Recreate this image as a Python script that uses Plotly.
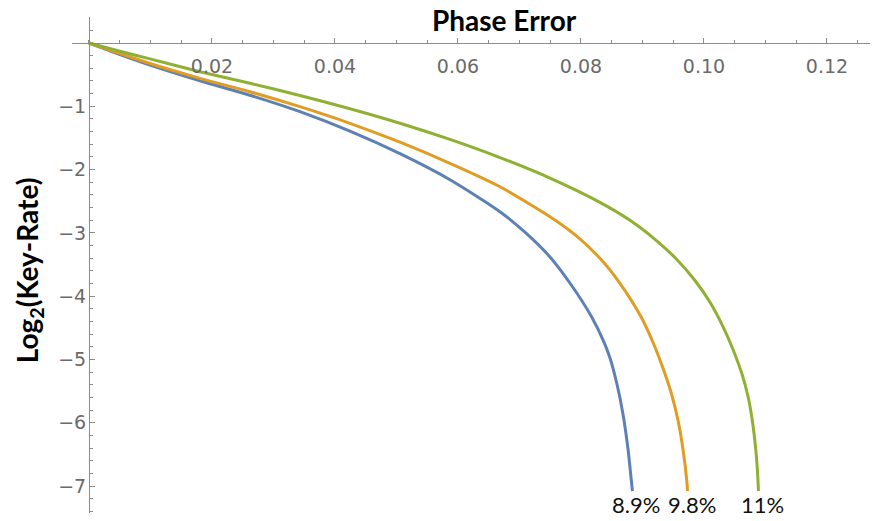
import plotly.graph_objects as go

# Phase error (x) and log2(key-rate) (y)
x_blue = [0.0, 0.00504, 0.00992, 0.01805, 0.02618, 0.03431, 0.04244, 0.05057, 0.05870, 0.06683,
          0.07089, 0.07496, 0.07837, 0.08179, 0.08374, 0.08472, 0.08585, 0.08683, 0.08769, 0.08813, 0.08837]
y_blue = [0.0, -0.182, -0.348, -0.596, -0.825, -1.085, -1.393, -1.749, -2.160, -2.665,
          -2.989, -3.380, -3.815, -4.336, -4.724, -4.976, -5.387, -5.861, -6.446, -6.856, -7.077]

x_orange = [0.0, 0.00504, 0.00992, 0.01805, 0.02618, 0.03431, 0.04244, 0.05057, 0.05870, 0.06683, 0.07496,
            0.07902, 0.08309, 0.08634, 0.08992, 0.09203, 0.09333, 0.09463, 0.09577, 0.09663, 0.09724, 0.09732]
y_orange = [0.0, -0.166, -0.324, -0.558, -0.769, -1.006, -1.269, -1.567, -1.900, -2.270, -2.744,
            -3.028, -3.401, -3.796, -4.352, -4.803, -5.134, -5.513, -5.956, -6.446, -6.951, -7.077]

x_green = [0.0, 0.00504, 0.00992, 0.01805, 0.02618, 0.03431, 0.04244, 0.05057, 0.05870, 0.06683, 0.07496,
           0.08309, 0.08797, 0.09203, 0.09528, 0.09854, 0.10098, 0.10309, 0.10472, 0.10618, 0.10715,
           0.10780, 0.10837, 0.10870, 0.10886]
y_green = [0.0, -0.131, -0.250, -0.453, -0.635, -0.829, -1.038, -1.267, -1.523, -1.810, -2.134,
           -2.517, -2.801, -3.101, -3.389, -3.752, -4.096, -4.479, -4.842, -5.229, -5.577,
           -5.924, -6.367, -6.761, -7.077]

x_ticks = [0.02, 0.04, 0.06, 0.08, 0.10, 0.12]
x_ticktext = ["0.02", "0.04", "0.06", "0.08", "0.10", "0.12"]
y_ticks = [-1, -2, -3, -4, -5, -6, -7]
y_ticktext = ["\u22121", "\u22122", "\u22123", "\u22124", "\u22125", "\u22126", "\u22127"]

threshold_labels = ["8.9%", "9.8%", "11%"]

colors = ["#5E81B5", "#E19C24", "#8FB032"]

fig = go.Figure()
for xs, ys, c in [(x_blue, y_blue, colors[0]), (x_orange, y_orange, colors[1]), (x_green, y_green, colors[2])]:
    fig.add_trace(go.Scatter(x=xs, y=ys, mode="lines",
                             line=dict(color=c, width=3, shape="spline", smoothing=0.7),
                             showlegend=False, hoverinfo="skip"))

axis_col = "#8c8c8c"
tick_font = dict(family="DejaVu Sans, sans-serif", size=19, color="#6a6a6a")

fig.update_layout(
    width=878, height=521,
    margin=dict(l=64, r=8, t=9, b=16),
    paper_bgcolor="white", plot_bgcolor="white",
    xaxis=dict(range=[-0.00276, 0.1283], anchor="free", position=0.9476, side="bottom",
               showline=True, linecolor=axis_col, linewidth=1,
               ticks="inside", ticklen=5, tickcolor=axis_col, tickwidth=1,
               tickmode="array", tickvals=x_ticks, ticktext=x_ticktext, tickfont=tick_font,
               ticklabelstandoff=6,
               showgrid=False, zeroline=False,
               minor=dict(tickmode="linear", tick0=0, dtick=0.005, ticklen=3,
                          ticks="inside", tickcolor=axis_col, showgrid=False)),
    yaxis=dict(range=[-7.425, 0.411], anchor="free", position=0.0211, side="left",
               showline=True, linecolor=axis_col, linewidth=1,
               ticks="inside", ticklen=5, tickcolor=axis_col, tickwidth=1,
               tickmode="array", tickvals=y_ticks, ticktext=y_ticktext, tickfont=tick_font,
               ticklabelstandoff=-1,
               showgrid=False, zeroline=False,
               minor=dict(tickmode="linear", tick0=0, dtick=0.2, ticklen=3,
                          ticks="inside", tickcolor=axis_col, showgrid=False)),
)

annotations = [
    dict(text="<b>Phase Error</b>", xref="paper", yref="paper", x=0.537, y=0.993,
         xanchor="center", yanchor="middle", showarrow=False,
         font=dict(family="Lato, sans-serif", size=28, color="black")),
    dict(text="<b>Log<sub>2</sub>(Key-Rate)</b>", xref="paper", yref="paper", x=-0.053, y=0.49,
         xanchor="center", yanchor="middle", textangle=-90, showarrow=False,
         font=dict(family="Lato, sans-serif", size=28, color="black")),
]
label_x = [0.6998, 0.769, 0.857]
for t, px in zip(threshold_labels, label_x):
    annotations.append(dict(text=t, xref="paper", yref="paper", x=px, y=0.018,
                            xanchor="center", yanchor="middle", showarrow=False,
                            font=dict(family="Lato, sans-serif", size=22, color="#111111")))
fig.update_layout(annotations=annotations)

fig.write_html("out.html")
